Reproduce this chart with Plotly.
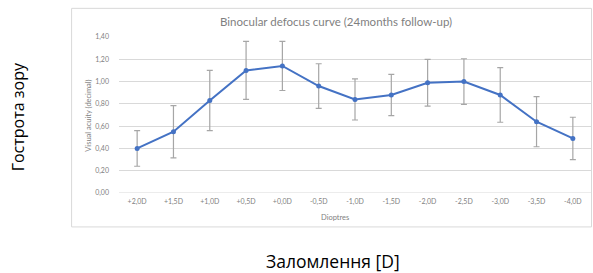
import plotly.graph_objects as go

categories = ["+2,0D", "+1,5D", "+1,0D", "+0,5D", "+0,0D", "-0,5D", "-1,0D",
              "-1,5D", "-2,0D", "-2,5D", "-3,0D", "-3,5D", "-4,0D"]
acuity = [0.40, 0.55, 0.83, 1.10, 1.14, 0.96, 0.84, 0.88, 0.99, 1.00, 0.88, 0.64, 0.49]
sd = [0.16, 0.235, 0.27, 0.26, 0.22, 0.20, 0.185, 0.185, 0.21, 0.205, 0.245, 0.225, 0.19]
y_ticks = [0.0, 0.2, 0.4, 0.6, 0.8, 1.0, 1.2, 1.4]
y_ticklabels = ["0,00", "0,20", "0,40", "0,60", "0,80", "1,00", "1,20", "1,40"]

W, H = 593, 273
L, R, T, B = 118.5, 1.5, 36.7, 80
PW, PH = W - L - R, H - T - B

def px(x):
    return (x - L) / PW

def py(y):
    return (H - B - y) / PH

fig = go.Figure()
fig.add_trace(go.Scatter(
    x=list(range(len(categories))), y=acuity,
    mode="lines+markers",
    line=dict(color="#4472C4", width=2),
    marker=dict(color="#4472C4", size=5),
    error_y=dict(type="data", array=sd, visible=True, color="#A6A6A6", thickness=1.2, width=3),
    showlegend=False,
))

grey = "#7F7F7F"
fig.update_layout(
    width=W, height=H,
    margin=dict(l=L, r=R, t=T, b=B, autoexpand=False),
    paper_bgcolor="white", plot_bgcolor="white",
    font=dict(family="Lato, Open Sans, sans-serif", color=grey),
    xaxis=dict(
        range=[-0.5, len(categories) - 0.5],
        tickmode="array", tickvals=list(range(len(categories))), ticktext=categories,
        showgrid=False, zeroline=False, showline=False, ticks="",
        tickfont=dict(size=7, color=grey), ticklabelstandoff=3,
    ),
    yaxis=dict(
        range=[0, 1.4], tickmode="array", tickvals=y_ticks, ticktext=y_ticklabels,
        showgrid=True, gridcolor="#D9D9D9", gridwidth=1, zeroline=False, showline=False,
        ticks="", tickfont=dict(size=7, color=grey), ticklabelstandoff=9,
    ),
    shapes=[
        dict(type="rect", xref="paper", yref="paper",
             x0=px(71), x1=px(592), y0=py(227), y1=py(8),
             line=dict(color="#D9D9D9", width=1), fillcolor="rgba(0,0,0,0)", layer="below"),
        dict(type="line", xref="paper", yref="y", x0=0, x1=1, y0=0, y1=0,
             line=dict(color="#D9D9D9", width=1)),
    ],
    annotations=[
        dict(text="Binocular defocus curve (24months follow-up)", xref="paper", yref="paper",
             x=px(336), y=py(21), showarrow=False, font=dict(size=11.5, color="#7F7F7F"),
             xanchor="center", yanchor="middle"),
        dict(text="Visual acuity (decimal)", xref="paper", yref="paper",
             x=px(88), y=py(116), showarrow=False, textangle=-90,
             font=dict(size=7.5, color=grey), xanchor="center", yanchor="middle"),
        dict(text="Dioptres", xref="paper", yref="paper",
             x=px(335), y=py(218), showarrow=False,
             font=dict(size=7.5, color=grey), xanchor="center", yanchor="middle"),
        dict(text="Гострота зору", xref="paper", yref="paper",
             x=px(17.5), y=py(117), showarrow=False, textangle=-90,
             font=dict(size=16, color="black", family="Open Sans, sans-serif"),
             xanchor="center", yanchor="middle"),
        dict(text="Заломлення [D]", xref="paper", yref="paper",
             x=px(333), y=py(261), showarrow=False,
             font=dict(size=17.5, color="black", family="Open Sans, sans-serif"),
             xanchor="center", yanchor="middle"),
    ],
)

fig.write_html("out.html", config={"displayModeBar": False},
               post_script="document.body.style.margin='0';document.body.style.overflow='hidden';")
